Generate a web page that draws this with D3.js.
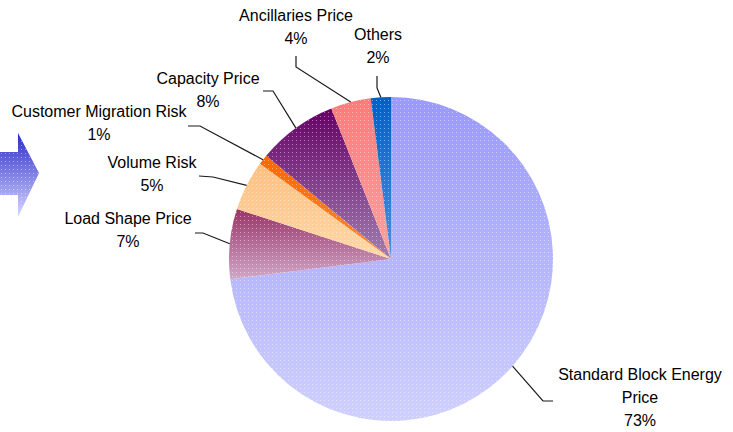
<!DOCTYPE html>
<html>
<head>
<meta charset="utf-8">
<script src="https://cdn.jsdelivr.net/npm/d3@7"></script>
<style>
  body { margin: 0; background: #fff; }
  svg { display: block; }
  text { font-family: "Liberation Sans", Arial, sans-serif; font-size: 16px; fill: #000; }
</style>
</head>
<body>
<svg width="733" height="432"></svg>
<script>
// slices in drawing order, clockwise from 12 o'clock
var names = ["Standard Block Energy Price", "Load Shape Price", "Volume Risk",
  "Customer Migration Risk", "Capacity Price", "Ancillaries Price", "Others"];
var shares = [73, 7, 5, 1, 8, 4, 2];
// label lines, split the way the chart wraps them
var labelLines = [["Standard Block Energy", "Price"], ["Load Shape Price"], ["Volume Risk"],
  ["Customer Migration Risk"], ["Capacity Price"], ["Ancillaries Price"], ["Others"]];
// gradient top / bottom colour per slice
var colTop = ["#9999ff", "#993366", "#ffc080", "#ff6600", "#660066", "#ff7a7a", "#0060c8"];
var colBot = ["#d0d0ff", "#d0a8c8", "#ffd8a8", "#ff8833", "#a080b0", "#ffa0a0", "#4a90e0"];

// layout for labels: text centre x, first baseline y, knee and tail of leader line
var labelLayout = [
  { x: 640, y: 380, knee: [543, 401], tail: [553, 401] },
  { x: 128, y: 224, knee: [203, 233], tail: [195, 233] },
  { x: 152, y: 168, knee: [213, 177], tail: [199, 176] },
  { x: 99,  y: 117, knee: [200, 126], tail: [188, 126] },
  { x: 208, y: 84,  knee: [273, 91],  tail: [263, 91] },
  { x: 296, y: 21,  knee: [296, 67],  tail: [296, 56] },
  { x: 378, y: 40,  knee: [377, 88],  tail: [377, 76] }
];

var svg = d3.select("svg"),
  cx = 391, cy = 259, r = 162,
  defs = svg.append("defs");

// dither-like dot texture
var pat = defs.append("pattern")
  .attr("id", "dots").attr("width", 4).attr("height", 4)
  .attr("patternUnits", "userSpaceOnUse");
pat.append("rect").attr("x", 1).attr("y", 1).attr("width", 1).attr("height", 1)
  .attr("fill", "#fff").attr("opacity", 0.45);

shares.forEach(function (s, i) {
  var g = defs.append("linearGradient")
    .attr("id", "grad" + i).attr("x1", 0).attr("y1", 0).attr("x2", 0).attr("y2", 1);
  g.append("stop").attr("offset", "0%").attr("stop-color", colTop[i]);
  g.append("stop").attr("offset", "100%").attr("stop-color", colBot[i]);
});

// arrow on the left
var ag = defs.append("linearGradient")
  .attr("id", "arrowGrad").attr("x1", 0).attr("y1", 0).attr("x2", 0).attr("y2", 1);
ag.append("stop").attr("offset", "0%").attr("stop-color", "#2a2acc");
ag.append("stop").attr("offset", "100%").attr("stop-color", "#d8d8ff");

var arrowPts = [[-2, 152], [18, 152], [18, 133], [39, 173], [18, 217], [18, 195], [-2, 195]];
svg.append("path").attr("d", d3.line()(arrowPts) + "Z").attr("fill", "url(#arrowGrad)");
svg.append("path").attr("d", d3.line()(arrowPts) + "Z").attr("fill", "url(#dots)");

var pie = d3.pie().sort(null).value(function (d) { return d; });
var arcs = pie(shares);
var arc = d3.arc().innerRadius(0).outerRadius(r);

var g = svg.append("g").attr("transform", "translate(" + cx + "," + cy + ")");

g.selectAll("path.slice")
  .data(arcs)
  .enter()
  .append("path")
  .attr("class", "slice")
  .attr("d", arc)
  .attr("fill", function (d, i) { return "url(#grad" + i + ")"; });

g.selectAll("path.tex")
  .data(arcs)
  .enter()
  .append("path")
  .attr("class", "tex")
  .attr("d", arc)
  .attr("fill", "url(#dots)");

// leader lines
arcs.forEach(function (d, i) {
  var a = (d.startAngle + d.endAngle) / 2,
    p = [cx + Math.sin(a) * r, cy - Math.cos(a) * r],
    L = labelLayout[i];
  svg.append("path")
    .attr("d", d3.line()([p, L.knee, L.tail]))
    .attr("fill", "none")
    .attr("stroke", "#1a1a1a")
    .attr("stroke-width", 1.2);
});

// labels
labelLines.forEach(function (lines, i) {
  var L = labelLayout[i],
    t = svg.append("text").attr("text-anchor", "middle");
  lines.concat([shares[i] + "%"]).forEach(function (s, j) {
    t.append("tspan").attr("x", L.x).attr("y", L.y + j * 23).text(s);
  });
});
</script>
</body>
</html>
